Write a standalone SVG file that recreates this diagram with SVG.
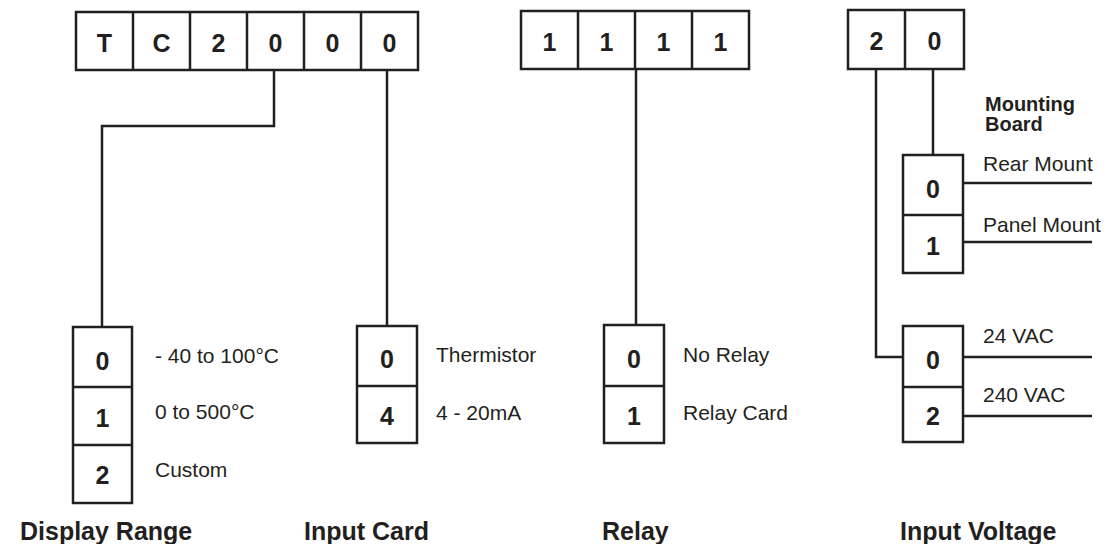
<svg xmlns="http://www.w3.org/2000/svg" width="1110" height="544" viewBox="0 0 1110 544">
<style>
.bx{fill:none;stroke:#231f20;stroke-width:2.5}
.ln{fill:none;stroke:#231f20;stroke-width:2.5}
.d{font-family:"Liberation Sans",Arial,sans-serif;font-weight:bold;font-size:25px;fill:#231f20;text-anchor:middle}
.t{font-family:"Liberation Sans",Arial,sans-serif;font-size:21px;fill:#231f20}
.h{font-family:"Liberation Sans",Arial,sans-serif;font-weight:bold;font-size:25px;fill:#231f20}
.m{font-family:"Liberation Sans",Arial,sans-serif;font-weight:bold;font-size:20px;fill:#231f20}
</style>
<rect width="1110" height="544" fill="#fff"/>
<g id="code-tc2000">
<rect class="bx" x="76" y="12" width="342" height="58"/>
<path class="ln" d="M133 12V70M190 12V70M247 12V70M304 12V70M361 12V70"/>
<text class="d" x="104.5" y="52">T</text>
<text class="d" x="161.5" y="52">C</text>
<text class="d" x="218.5" y="52">2</text>
<text class="d" x="275.5" y="52">0</text>
<text class="d" x="332.5" y="52">0</text>
<text class="d" x="389.5" y="52">0</text>
</g>
<g id="code-1111">
<rect class="bx" x="521" y="11" width="228" height="58"/>
<path class="ln" d="M578 11V69M635 11V69M692 11V69"/>
<text class="d" x="549.5" y="51">1</text>
<text class="d" x="606.5" y="51">1</text>
<text class="d" x="663.5" y="51">1</text>
<text class="d" x="720.5" y="51">1</text>
</g>
<g id="code-20">
<rect class="bx" x="848" y="10" width="116" height="59"/>
<path class="ln" d="M905 10V69"/>
<text class="d" x="876.5" y="50">2</text>
<text class="d" x="934.5" y="50">0</text>
</g>
<g id="connectors">
<path class="ln" d="M274 70V126H102V327"/>
<path class="ln" d="M387 70V326"/>
<path class="ln" d="M636 69V325"/>
<path class="ln" d="M876 69V357H903"/>
<path class="ln" d="M933 69V155"/>
<path class="ln" d="M963 183H1092M963 242H1092M963 357H1092M963 416H1092"/>
</g>
<g id="display-range">
<rect class="bx" x="73" y="327" width="59" height="176"/>
<path class="ln" d="M73 387H132M73 445H132"/>
<text class="d" x="102.5" y="370">0</text>
<text class="d" x="102.5" y="427">1</text>
<text class="d" x="102.5" y="484">2</text>
<text class="t" x="155" y="363">- 40 to 100°C</text>
<text class="t" x="155" y="419">0 to 500°C</text>
<text class="t" x="155" y="477">Custom</text>
<text class="h" x="20" y="540">Display Range</text>
</g>
<g id="input-card">
<rect class="bx" x="357" y="326" width="60" height="117"/>
<path class="ln" d="M357 386H417"/>
<text class="d" x="387" y="368">0</text>
<text class="d" x="387" y="425">4</text>
<text class="t" x="436" y="362">Thermistor</text>
<text class="t" x="436" y="420">4 - 20mA</text>
<text class="h" x="304" y="540">Input Card</text>
</g>
<g id="relay">
<rect class="bx" x="604" y="325" width="60" height="118"/>
<path class="ln" d="M604 386H664"/>
<text class="d" x="634" y="368">0</text>
<text class="d" x="634" y="425">1</text>
<text class="t" x="683" y="362">No Relay</text>
<text class="t" x="683" y="420">Relay Card</text>
<text class="h" x="602" y="540">Relay</text>
</g>
<g id="mounting-board">
<rect class="bx" x="903" y="155" width="60" height="118"/>
<path class="ln" d="M903 215H963"/>
<text class="d" x="933" y="198">0</text>
<text class="d" x="933" y="255">1</text>
<text class="m" x="985" y="111">Mounting</text>
<text class="m" x="985" y="131">Board</text>
<text class="t" x="983" y="171">Rear Mount</text>
<text class="t" x="983" y="232">Panel Mount</text>
</g>
<g id="input-voltage">
<rect class="bx" x="903" y="326" width="60" height="116"/>
<path class="ln" d="M903 387H963"/>
<text class="d" x="933" y="369">0</text>
<text class="d" x="933" y="425">2</text>
<text class="t" x="983" y="343">24 VAC</text>
<text class="t" x="983" y="402">240 VAC</text>
<text class="h" x="900" y="540">Input Voltage</text>
</g>
</svg>
